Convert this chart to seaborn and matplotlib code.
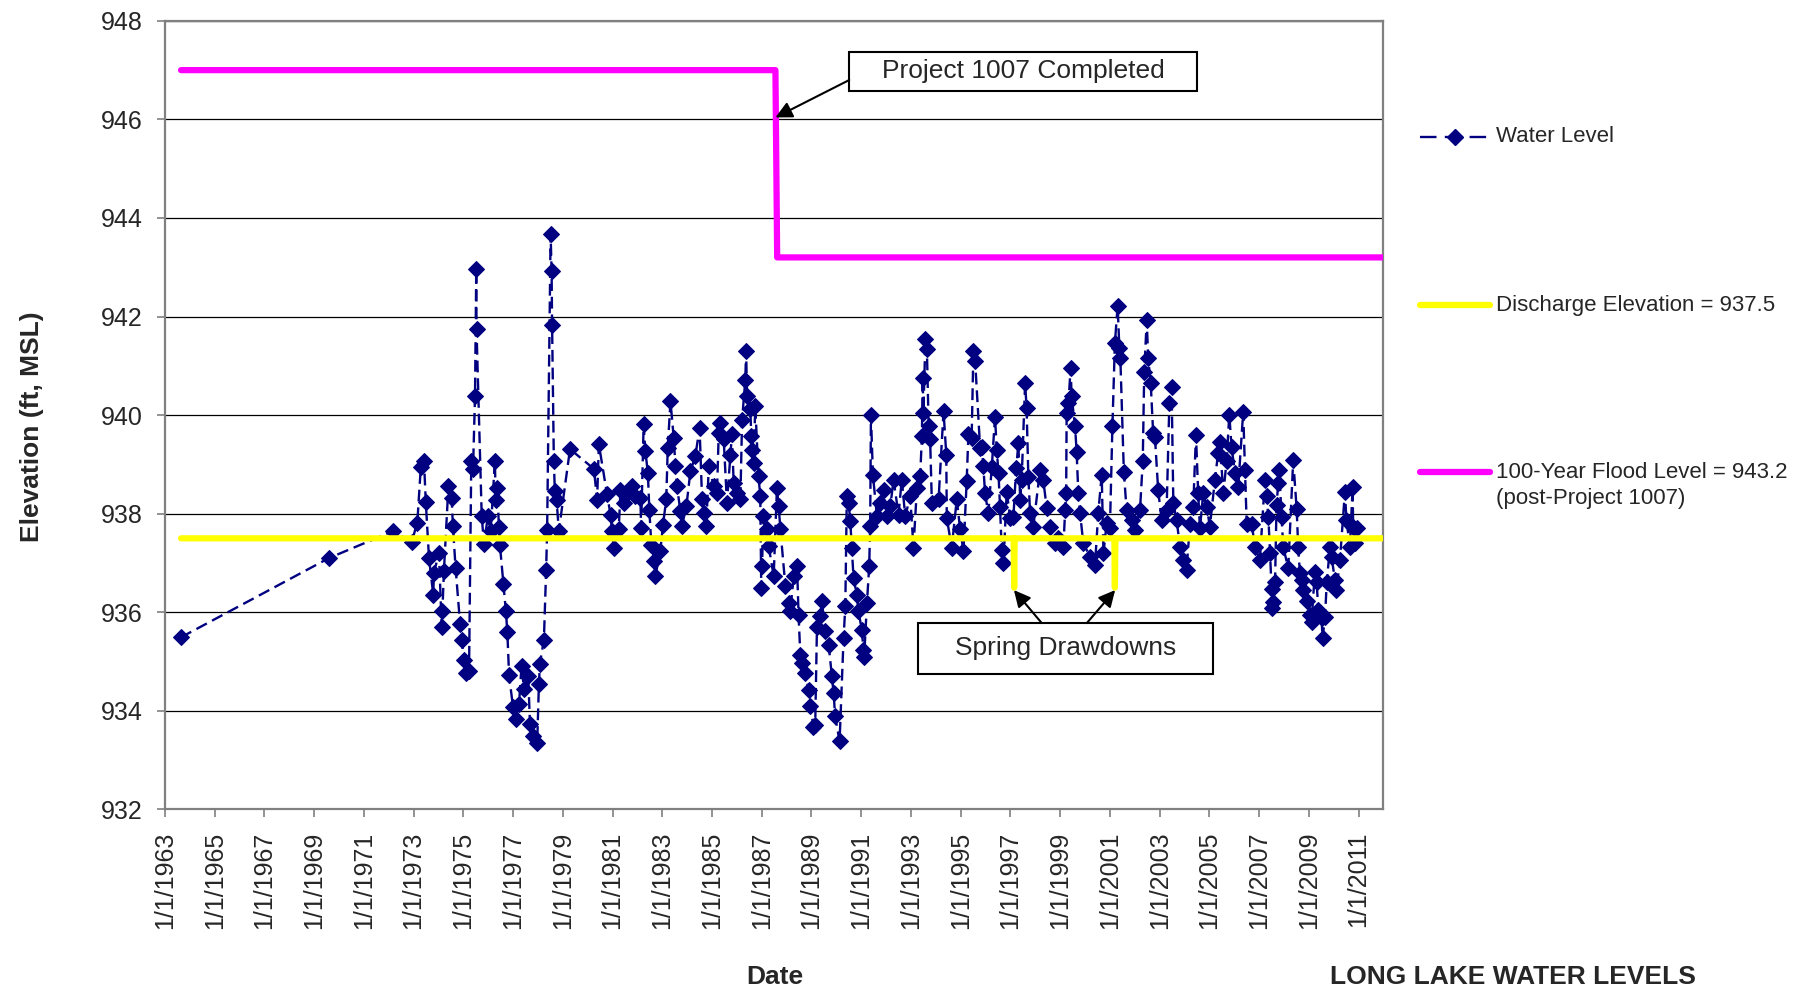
import matplotlib
matplotlib.use("Agg")
import matplotlib.pyplot as plt
from matplotlib.lines import Line2D
from matplotlib.patches import Rectangle
import pandas as pd
import seaborn as sns

# Long Lake water level readings (decimal year, elevation ft MSL)
level_years = [
    1963.64, 1969.60, 1972.19, 1972.92, 1973.15, 1973.29, 1973.42, 1973.49, 1973.62, 1973.79,
    1973.82, 1974.02, 1974.13, 1974.16, 1974.22, 1974.40, 1974.53, 1974.58, 1974.69, 1974.87,
    1974.93, 1975.03, 1975.09, 1975.23, 1975.32, 1975.39, 1975.47, 1975.52, 1975.53, 1975.74,
    1975.83, 1975.99, 1976.10, 1976.27, 1976.30, 1976.37, 1976.43, 1976.47, 1976.61, 1976.71,
    1976.77, 1976.84, 1977.00, 1977.10, 1977.24, 1977.34, 1977.44, 1977.61, 1977.68, 1977.81,
    1977.97, 1978.04, 1978.08, 1978.24, 1978.33, 1978.37, 1978.51, 1978.55, 1978.57, 1978.64,
    1978.68, 1978.75, 1978.84, 1979.29, 1980.25, 1980.38, 1980.45, 1980.78, 1980.92, 1980.98,
    1981.05, 1981.25, 1981.32, 1981.45, 1981.58, 1981.78, 1981.92, 1982.12, 1982.15, 1982.25,
    1982.32, 1982.42, 1982.48, 1982.56, 1982.68, 1982.72, 1982.92, 1983.03, 1983.16, 1983.22,
    1983.33, 1983.46, 1983.53, 1983.59, 1983.73, 1983.79, 1983.97, 1984.13, 1984.33, 1984.50,
    1984.60, 1984.67, 1984.77, 1984.87, 1985.07, 1985.20, 1985.27, 1985.33, 1985.47, 1985.60,
    1985.74, 1985.80, 1985.87, 1986.00, 1986.14, 1986.21, 1986.34, 1986.37, 1986.41, 1986.54,
    1986.58, 1986.61, 1986.67, 1986.74, 1986.87, 1986.94, 1986.98, 1987.01, 1987.07, 1987.21,
    1987.28, 1987.48, 1987.61, 1987.68, 1987.75, 1987.95, 1988.08, 1988.15, 1988.28, 1988.42,
    1988.48, 1988.55, 1988.62, 1988.75, 1988.88, 1988.95, 1989.08, 1989.15, 1989.22, 1989.35,
    1989.42, 1989.55, 1989.69, 1989.82, 1989.89, 1989.95, 1990.13, 1990.29, 1990.36, 1990.42,
    1990.49, 1990.56, 1990.62, 1990.69, 1990.82, 1990.89, 1991.02, 1991.09, 1991.12, 1991.23,
    1991.32, 1991.36, 1991.39, 1991.47, 1991.63, 1991.76, 1991.90, 1992.03, 1992.17, 1992.30,
    1992.50, 1992.63, 1992.77, 1992.97, 1993.10, 1993.24, 1993.37, 1993.44, 1993.47, 1993.50,
    1993.58, 1993.64, 1993.71, 1993.77, 1993.84, 1994.11, 1994.31, 1994.42, 1994.44, 1994.64,
    1994.84, 1994.98, 1995.11, 1995.24, 1995.31, 1995.44, 1995.51, 1995.58, 1995.78, 1995.85,
    1995.91, 1995.98, 1996.11, 1996.25, 1996.38, 1996.45, 1996.52, 1996.58, 1996.65, 1996.72,
    1996.85, 1996.99, 1997.12, 1997.23, 1997.32, 1997.39, 1997.45, 1997.59, 1997.65, 1997.72,
    1997.79, 1997.92, 1998.19, 1998.32, 1998.46, 1998.59, 1998.79, 1998.93, 1999.13, 1999.20,
    1999.24, 1999.26, 1999.33, 1999.42, 1999.46, 1999.60, 1999.66, 1999.73, 1999.80, 1999.93,
    2000.20, 2000.40, 2000.53, 2000.67, 2000.74, 2000.87, 2001.00, 2001.10, 2001.20, 2001.31,
    2001.38, 2001.42, 2001.56, 2001.67, 2001.87, 2002.01, 2002.21, 2002.32, 2002.38, 2002.48,
    2002.54, 2002.64, 2002.74, 2002.81, 2002.94, 2003.08, 2003.28, 2003.39, 2003.48, 2003.55,
    2003.68, 2003.82, 2003.95, 2004.08, 2004.22, 2004.35, 2004.46, 2004.55, 2004.62, 2004.75,
    2004.89, 2005.02, 2005.22, 2005.35, 2005.42, 2005.56, 2005.69, 2005.80, 2005.89, 2006.03,
    2006.16, 2006.36, 2006.43, 2006.50, 2006.70, 2006.83, 2007.03, 2007.23, 2007.30, 2007.37,
    2007.44, 2007.50, 2007.53, 2007.57, 2007.64, 2007.70, 2007.77, 2007.81, 2007.90, 2007.97,
    2008.17, 2008.37, 2008.51, 2008.57, 2008.64, 2008.71, 2008.77, 2008.91, 2009.04, 2009.11,
    2009.24, 2009.31, 2009.38, 2009.51, 2009.55, 2009.65, 2009.72, 2009.85, 2009.91, 2010.05,
    2010.11, 2010.25, 2010.45, 2010.51, 2010.65, 2010.76, 2010.78, 2010.85, 2010.95,
]
level_values = [
    935.49, 937.10, 937.65, 937.42, 937.82, 938.94, 939.06, 938.24, 937.10, 936.36,
    936.80, 937.21, 935.70, 936.03, 936.84, 938.56, 938.32, 937.76, 936.89, 935.77,
    935.44, 935.03, 934.77, 934.81, 939.06, 938.91, 940.38, 942.97, 941.75, 937.95,
    937.39, 937.95, 937.65, 939.07, 938.28, 938.52, 937.73, 937.37, 936.58, 936.03,
    935.60, 934.72, 934.07, 933.83, 934.14, 934.91, 934.44, 934.70, 933.74, 933.48,
    933.34, 934.55, 934.96, 935.44, 936.86, 937.67, 943.67, 942.92, 941.82, 939.06,
    938.46, 938.28, 937.65, 939.31, 938.91, 938.28, 939.41, 938.39, 937.98, 937.64,
    937.31, 937.68, 938.49, 938.22, 938.42, 938.56, 938.35, 938.32, 937.71, 939.81,
    939.27, 938.83, 938.08, 937.37, 937.03, 936.73, 937.24, 937.78, 938.29, 939.34,
    940.28, 939.54, 938.96, 938.56, 938.05, 937.75, 938.15, 938.86, 939.17, 939.74,
    938.29, 938.02, 937.75, 938.96, 938.56, 938.42, 939.64, 939.84, 939.51, 938.22,
    939.20, 939.61, 938.63, 938.42, 938.29, 939.91, 940.72, 941.31, 940.39, 940.12,
    939.57, 939.30, 939.03, 940.18, 938.76, 938.35, 936.49, 936.93, 937.95, 937.68,
    937.34, 936.73, 938.52, 938.15, 937.68, 936.53, 936.19, 936.02, 936.73, 936.93,
    935.95, 935.14, 934.97, 934.77, 934.43, 934.09, 933.68, 933.72, 935.71, 935.92,
    936.22, 935.61, 935.34, 934.70, 934.36, 933.89, 933.38, 935.48, 936.12, 938.35,
    938.22, 937.85, 937.31, 936.70, 936.36, 936.02, 935.65, 935.24, 935.10, 936.19,
    936.93, 937.75, 940.00, 938.79, 937.95, 938.22, 938.49, 937.95, 938.15, 938.69,
    937.98, 938.69, 937.95, 938.35, 937.31, 938.52, 938.76, 939.57, 940.76, 940.05,
    941.54, 941.35, 939.78, 939.51, 938.22, 938.29, 940.08, 939.20, 937.91, 937.31,
    938.29, 937.68, 937.24, 938.66, 939.61, 939.54, 941.30, 941.10, 939.34, 939.36,
    938.96, 938.41, 938.01, 938.95, 939.97, 939.29, 938.82, 938.14, 937.26, 936.99,
    938.45, 937.91, 937.94, 938.92, 939.43, 938.28, 938.68, 940.65, 940.14, 938.75,
    938.01, 937.74, 938.89, 938.68, 938.11, 937.74, 937.40, 937.50, 937.33, 938.08,
    938.41, 940.04, 940.24, 940.95, 940.38, 939.77, 939.26, 938.41, 938.01, 937.40,
    937.13, 936.96, 938.01, 938.79, 937.20, 937.81, 937.70, 939.77, 941.46, 942.22,
    941.36, 941.15, 938.85, 938.08, 937.87, 937.67, 938.08, 939.06, 940.88, 941.92,
    941.15, 940.65, 939.63, 939.56, 938.48, 937.87, 938.08, 940.24, 940.58, 938.21,
    937.87, 937.33, 937.06, 936.86, 937.80, 938.14, 939.60, 938.41, 937.70, 938.41,
    938.14, 937.74, 938.68, 939.23, 939.46, 938.41, 939.06, 940.01, 939.36, 938.82,
    938.55, 940.07, 938.89, 937.80, 937.80, 937.33, 937.06, 938.68, 938.35, 937.94,
    937.20, 936.48, 936.08, 936.21, 936.62, 938.18, 938.62, 938.89, 937.94, 937.33,
    936.89, 939.09, 938.09, 937.33, 936.79, 936.66, 936.45, 936.22, 935.95, 935.81,
    936.82, 936.62, 936.05, 935.88, 935.47, 935.91, 936.62, 937.33, 937.13, 936.66,
    936.45, 937.06, 938.45, 937.87, 937.33, 938.55, 937.74, 937.40, 937.70,
]

# discharge elevation with the two spring drawdowns
discharge_years = [1963.65, 1997.13, 1997.15, 1997.17, 2001.18, 2001.20, 2001.22, 2012.5]
discharge_values = [937.5, 937.5, 936.5, 937.5, 937.5, 936.5, 937.5, 937.5]

# 100-year flood level, before / after Project 1007
flood_years = [1963.65, 1987.55, 1987.62, 2012.5]
flood_values = [947.0, 947.0, 943.2, 943.2]

tick_years = list(range(1963, 2012, 2))
tick_labels = [f"1/1/{y}" for y in tick_years]

NAVY = "#000080"
YELLOW = "#FFFF00"
MAGENTA = "#FF00FF"
GREY = "#808080"

sns.set_style("white")
plt.rcParams["font.family"] = ["Liberation Sans", "DejaVu Sans"]

fig = plt.figure(figsize=(18.08, 9.93), dpi=100)
ax = fig.add_axes([0.0912, 0.1849, 0.6740, 0.7941])

df_level = pd.DataFrame({"year": level_years, "elev": level_values})
df_dis = pd.DataFrame({"year": discharge_years, "elev": discharge_values})
df_flood = pd.DataFrame({"year": flood_years, "elev": flood_values})

sns.lineplot(data=df_level, x="year", y="elev", ax=ax, estimator=None, sort=False,
             color=NAVY, lw=1.7, linestyle=(0, (5, 2.5)), marker="D", markersize=7.8,
             markeredgecolor=NAVY, markerfacecolor=NAVY, zorder=3)
sns.lineplot(data=df_dis, x="year", y="elev", ax=ax, estimator=None, sort=False,
             color=YELLOW, lw=4.5, solid_capstyle="round", solid_joinstyle="round", zorder=4)
sns.lineplot(data=df_flood, x="year", y="elev", ax=ax, estimator=None, sort=False,
             color=MAGENTA, lw=4.5, solid_capstyle="round", solid_joinstyle="round", zorder=4)

ax.set_xlim(1963, 2012)
ax.set_ylim(932, 948)
ax.set_yticks(range(932, 949, 2))
ax.set_xticks(tick_years)
ax.set_xticklabels(tick_labels, rotation=90)
ax.tick_params(axis="both", labelsize=18, length=6, width=1.2, color=GREY, pad=10,
               direction="out", bottom=True, left=True)
ax.grid(axis="y", color="black", lw=0.9)
ax.grid(axis="x", visible=False)
for sp in ax.spines.values():
    sp.set_color(GREY)
    sp.set_linewidth(1.6)

ax.set_ylabel("Elevation (ft, MSL)", fontsize=19, fontweight="bold")
ax.yaxis.set_label_coords(-0.0995, 0.485)
ax.set_xlabel("Date", fontsize=19, fontweight="bold", va="center")
ax.xaxis.set_label_coords(0.5007, -0.212)
fig.text(1513 / 1808, 1 - 977 / 993, "LONG LAKE WATER LEVELS", fontsize=19,
         fontweight="bold", ha="center", va="center")

# annotation boxes and arrows
ax.add_patch(Rectangle((1990.52, 946.58), 13.98, 0.79, fc="white", ec="black",
                       lw=1.5, zorder=6))
ax.text(1997.51, 946.975, "Project 1007 Completed", fontsize=19, ha="center",
        va="center", zorder=7)
ax.annotate("", xy=(1987.55, 946.04), xytext=(1990.52, 946.80),
            arrowprops=dict(arrowstyle="-|>", color="black", lw=1.5,
                            mutation_scale=25, shrinkA=0, shrinkB=0), zorder=6)

ax.add_patch(Rectangle((1993.29, 934.75), 11.86, 1.03, fc="white", ec="black",
                       lw=1.5, zorder=6))
ax.text(1999.22, 935.265, "Spring Drawdowns", fontsize=19, ha="center",
        va="center", zorder=7)
for head, tail in [((1997.14, 936.45), (1998.26, 935.78)),
                   ((2001.21, 936.45), (2000.07, 935.78))]:
    ax.annotate("", xy=head, xytext=tail,
                arrowprops=dict(arrowstyle="-|>", color="black", lw=1.5,
                                mutation_scale=25, shrinkA=0, shrinkB=0), zorder=6)

# legend on the right
x0, x1, xt = 1420 / 1808, 1490 / 1808, 1496 / 1808
y_wl, y_dis, y_fl = 1 - 137 / 993, 1 - 305 / 993, 1 - 472 / 993
fig.add_artist(Line2D([x0, (x0 + x1) / 2, x1], [y_wl] * 3, color=NAVY, lw=1.7,
                      linestyle=(0, (7, 3.5)), marker="D", markersize=7.8,
                      markevery=[1], transform=fig.transFigure))
fig.add_artist(Line2D([x0, x1], [y_dis] * 2, color=YELLOW, lw=4.5,
                      solid_capstyle="round", transform=fig.transFigure))
fig.add_artist(Line2D([x0, x1], [y_fl] * 2, color=MAGENTA, lw=4.5,
                      solid_capstyle="round", transform=fig.transFigure))
fig.text(xt, y_wl, "Water Level", fontsize=16, va="center")
fig.text(xt, y_dis, "Discharge Elevation = 937.5", fontsize=16, va="center")
fig.text(xt, y_fl, "100-Year Flood Level = 943.2", fontsize=16, va="center")
fig.text(xt, y_fl - 27 / 993, "(post-Project 1007)", fontsize=16, va="center")

fig.savefig("out.png", dpi=100)
